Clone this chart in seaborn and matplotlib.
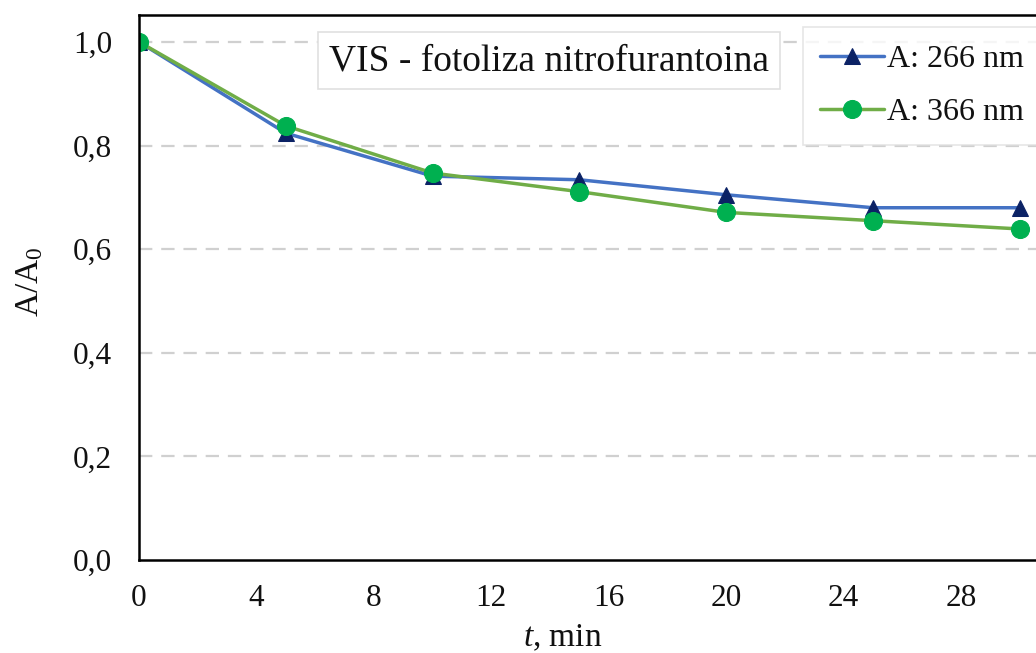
import pandas as pd
import matplotlib.pyplot as plt
import seaborn as sns

# Dane
czas = [0, 5, 10, 15, 20, 25, 30]
a_266 = [1.000, 0.824, 0.741, 0.734, 0.705, 0.680, 0.680]
a_366 = [1.000, 0.838, 0.747, 0.711, 0.671, 0.655, 0.639]
y_ticks = [0.0, 0.2, 0.4, 0.6, 0.8, 1.0]
x_ticks = [0, 4, 8, 12, 16, 20, 24, 28]

sns.set_theme(style="white")
plt.rcParams['font.family'] = ['Liberation Serif', 'DejaVu Serif']
plt.rcParams['mathtext.fontset'] = 'custom'
plt.rcParams['mathtext.rm'] = 'Liberation Serif'
plt.rcParams['mathtext.it'] = 'Liberation Serif:italic'

df = pd.DataFrame({'t': czas, 'A266': a_266, 'A366': a_366})

fig = plt.figure(figsize=(10.36, 6.53), dpi=100)
ax = fig.add_axes([0.1342, 0.1424, 0.8658, 0.8346])

sns.lineplot(data=df, x='t', y='A266', ax=ax, color='#4472C4', linewidth=2.5,
             marker='^', markersize=12, markerfacecolor='#0B2265',
             markeredgecolor='#0B2265', label='A: 266 nm')
sns.lineplot(data=df, x='t', y='A366', ax=ax, color='#70AD47', linewidth=2.5,
             marker='o', markersize=13, markerfacecolor='#00B050',
             markeredgecolor='#00B050', label='A: 366 nm')

ax.set_xlim(0, 30.55)
ax.set_ylim(0, 1.052)
ax.set_xticks(x_ticks)
ax.set_yticks(y_ticks)
ax.set_yticklabels([f'{v:.1f}'.replace('.', ',') for v in y_ticks])
ax.tick_params(axis='both', labelsize=22.5, direction='out', length=7.2, width=1.6,
               color='black', labelcolor='#111111', pad=12)
ax.tick_params(axis='x', pad=10)

# siatka pozioma przerywana
for v in y_ticks[1:]:
    ax.axhline(v, color='#d0d0d0', linestyle=(0, (6, 4)), linewidth=1.6, zorder=0)

for s in ['left', 'bottom', 'top']:
    ax.spines[s].set_color('black')
    ax.spines[s].set_linewidth(1.8)
ax.spines['right'].set_visible(False)

ax.set_xlabel('$\\mathit{t}$, min', fontsize=24, color='#111111')
ax.set_ylabel('A/A$_\\mathregular{0}$', fontsize=24, color='#111111')
ax.xaxis.set_label_coords(0.472, -0.116)
ax.yaxis.set_label_coords(-0.105, 0.51)

ax.text(0.457, 0.916, 'VIS - fotoliza nitrofurantoina', transform=ax.transAxes,
        ha='center', va='center', fontsize=27, color='#111111',
        bbox=dict(boxstyle='square,pad=0.3', facecolor='white',
                  edgecolor='#e0e0e0', linewidth=1.2))

leg = ax.legend(loc='upper left', bbox_to_anchor=(0.74, 0.978), fontsize=23,
                frameon=True, fancybox=False, handlelength=2.0,
                handletextpad=0.1, labelspacing=0.75, borderpad=0.55,
                borderaxespad=0)
leg.get_frame().set_edgecolor('#e0e0e0')
leg.get_frame().set_linewidth(1.2)
for txt in leg.get_texts():
    txt.set_color('#111111')

fig.savefig('out.png', dpi=100)
